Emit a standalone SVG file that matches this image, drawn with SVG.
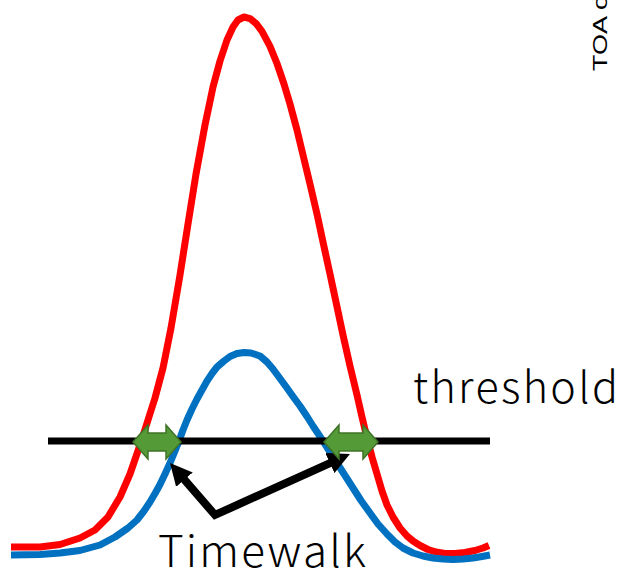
<svg xmlns="http://www.w3.org/2000/svg" width="621" height="574" viewBox="0 0 621 574">
  <style>
    .curve { fill: none; stroke-width: 7; stroke-linejoin: round; stroke-linecap: butt; }
    .red { stroke: #FF0000; }
    .blue { stroke: #0070C0; }
    .thr { stroke: #000000; stroke-width: 7; }
    .green { fill: #549B38; stroke: #3F7327; stroke-width: 1.5; stroke-linejoin: miter; }
    .conn { fill: none; stroke: #000000; stroke-width: 8; stroke-linejoin: miter; stroke-miterlimit: 10; }
    .label { font-family: "Noto Sans CJK JP", "Noto Sans", sans-serif; font-weight: 300; fill: #000000; }
    .axis { font-family: "Liberation Sans", Arial, sans-serif; fill: #000000; }
  </style>
  <defs>
    <marker id="ah" markerUnits="userSpaceOnUse" viewBox="0 0 22 22" markerWidth="22" markerHeight="22" refX="8" refY="11" orient="auto-start-reverse">
      <path d="M0,0 L22,11 L0,22 Z" fill="#000000"/>
    </marker>
  </defs>

  <g id="curve-red">
    <polyline class="curve red" points="11,547 40,547 60,544.5 80,538 95,530 108,517 120,497 130,474 140,445 148,420 155,398 163,368 171,328 180,275 188,224 196,174 205,125 213,87 220,61 227,40 233,27 238,20 244,17 250,18.6 256,23.4 262,31.3 270,46.4 277,63.5 284,84 290,104 297,130 303,155 310,184 317,214 323,242 330,274 336,302 343,335 350,366 357,395 362,417 367,438 372,457 377,474 382,491 387,505 393,517 400,528 407,536 413,541 420,545.5 428,549.5 436,552 445,553.5 455,553.5 465,552.5 475,550.5 483,548 489,545.5"/>
  </g>

  <g id="curve-blue">
    <polyline class="curve blue" points="11,555 40,554.5 60,553 80,550.5 100,545 115,537 128,528 137,520 144,511 150,502 155,493.5 160,484.5 165,474 170,463 175,451 179,441 183,430 187,420 192,409 197,399 202,390 207,381 212,373.5 217,367 224,361 230,356.5 237,353.5 244,352.5 251,353 260,356 267,362 273,369 280,378.5 287,388 293,396.5 300,406 307,416.5 313,426 318,433.5 323,441 330,452 337,463 345,475.5 353,488 361,500.5 370,513 378,524 387,534 395,542 403,548 413,553 423,556 433,558 443,559 453,559.5 463,559 473,558 482,556.5 490,555"/>
  </g>

  <g id="threshold-line">
    <line class="thr" x1="48" y1="441" x2="490" y2="441"/>
  </g>

  <g id="connectors">
    <path class="conn" d="M179.2,473.6 L215,515 L337.2,459.8" marker-start="url(#ah)" marker-end="url(#ah)"/>
  </g>

  <g id="timewalk-left">
    <polygon class="green" points="133,442 148,425 148,433 166,433 166,425 181,442 166,459 166,451 148,451 148,459"/>
  </g>
  <g id="timewalk-right">
    <polygon class="green" points="324,442 339,425 339,433 363,433 363,425 378,442 363,459 363,451 339,451 339,459"/>
  </g>

  <g id="label-threshold">
    <text class="label" x="413" y="403" font-size="43" textLength="205">threshold</text>
  </g>
  <g id="label-timewalk">
    <text class="label" x="158" y="567" font-size="44" textLength="208">Timewalk</text>
  </g>
  <g id="label-toa">
    <text class="axis" transform="translate(607,71) rotate(-90)" font-size="21" textLength="76" lengthAdjust="spacingAndGlyphs">TOA o</text>
  </g>
</svg>
